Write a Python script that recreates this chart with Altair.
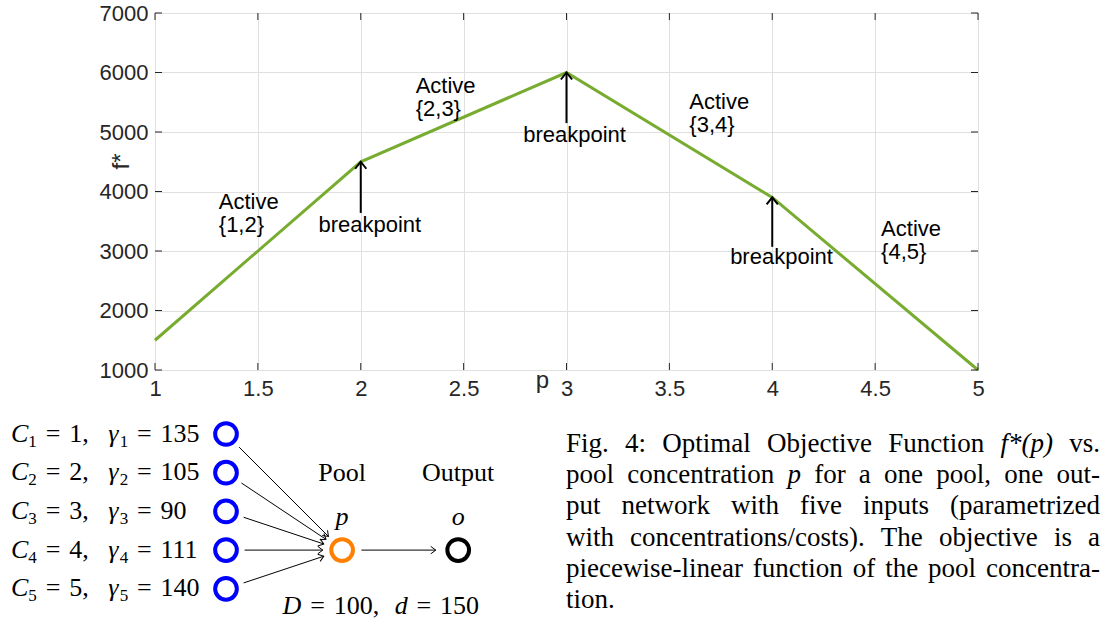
import math
import altair as alt
import pandas as pd

# ------------------------------------------------------------------
# Optimal objective f*(p) over the pool concentration
# ------------------------------------------------------------------
p_vals = [1, 2, 3, 4, 5]
f_vals = [1500, 4500, 6000, 3900, 1000]

x_ticks = [1, 1.5, 2, 2.5, 3, 3.5, 4, 4.5, 5]
y_ticks = [1000, 2000, 3000, 4000, 5000, 6000, 7000]

active_text = ["Active\n{1,2}", "Active\n{2,3}", "Active\n{3,4}", "Active\n{4,5}"]
active_p = [1.31, 2.267, 3.597, 4.529]
active_f = [3700, 5650, 5380, 3250]

bp_p = [2, 3, 4]
bp_tip = [4500, 6000, 3900]
bp_tail = [3640, 5150, 3070]
bp_text_p = [2.044, 3.039, 4.045]
bp_text_f = [3320, 4840, 2780]

# Network: five inputs (concentration, cost) -> one pool -> one output
input_conc = [1, 2, 3, 4, 5]
input_cost = [135, 105, 90, 111, 140]
demand = 100
price = 150

caption_lines = [
    "Fig. 4: Optimal Objective Function f*(p) vs.",
    "pool concentration p for a one pool, one out-",
    "put network with five inputs (parametrized",
    "with concentrations/costs). The objective is a",
    "piecewise-linear function of the pool concentra-",
    "tion.",
]
ITALIC_WORDS = {"f*(p)", "p"}

# ------------------------------------------------------------------
# Layout / style
# ------------------------------------------------------------------
W, H = 823, 357
PAD = {"left": 155, "top": 13, "right": 134, "bottom": 254}
GREEN = "#77AC30"
AXIS_GRAY = "#262626"
GRID_GRAY = "#e0e0e0"
TICK = 7
SANS = "Liberation Sans"
SERIF = "Liberation Serif"
FS_TICK = 22
FS_NOTE = 22

# Times-compatible advance widths (1/1000 em) for Liberation Serif
SERIF_RM = {
    " ": 250, "(": 333, ")": 333, "*": 500, ",": 250, "-": 333, ".": 250, "/": 278,
    ":": 278, "=": 564, "{": 480, "}": 480,
    "A": 722, "B": 667, "C": 667, "D": 722, "E": 611, "F": 556, "O": 722, "P": 556, "T": 611,
    "a": 444, "b": 500, "c": 444, "d": 500, "e": 444, "f": 333, "g": 500, "h": 500,
    "i": 278, "j": 278, "k": 500, "l": 278, "m": 778, "n": 500, "o": 500, "p": 500,
    "q": 500, "r": 333, "s": 389, "t": 278, "u": 500, "v": 500, "w": 722, "x": 500,
    "y": 500, "z": 444,
}
for d in "0123456789":
    SERIF_RM[d] = 500
SERIF_IT = {"C": 667, "D": 722, "d": 500, "p": 500, "o": 500, "f": 278, "*": 500,
            "(": 333, ")": 333, "γ": 440}


def text_width(s, italic, size):
    table = SERIF_IT if italic else SERIF_RM
    return sum(table.get(ch, SERIF_RM.get(ch, 500)) for ch in s) * size / 1000


# ------------------------------------------------------------------
# Main plot
# ------------------------------------------------------------------
x_scale = alt.Scale(domain=[1, 5], nice=False, zero=False)
y_scale = alt.Scale(domain=[1000, 7000], nice=False, zero=False)

x_axis = alt.Axis(
    values=x_ticks, format="~g", grid=True, gridColor=GRID_GRAY, ticks=False, domain=False,
    labelFlush=False, labelPadding=8, labelFontSize=FS_TICK, labelFont=SANS,
    labelColor=AXIS_GRAY,
    titleFont=SANS, titleFontSize=24, titleFontWeight="normal", titleColor=AXIS_GRAY,
    titleX=387, titleY=17, titleBaseline="alphabetic", titleAlign="center",
)
y_axis = alt.Axis(
    values=y_ticks, format="d", grid=True, gridColor=GRID_GRAY, ticks=False, domain=False,
    labelFlush=False, labelPadding=7, labelFontSize=FS_TICK, labelFont=SANS,
    labelColor=AXIS_GRAY,
    titleFont=SANS, titleFontSize=24, titleFontWeight="normal", titleColor=AXIS_GRAY,
    titleX=-27, titleY=148, titleAngle=270, titleBaseline="alphabetic", titleAlign="center",
)


def X(field, axis=True):
    if axis:
        return alt.X(field, type="quantitative", scale=x_scale, axis=x_axis, title="p")
    return alt.X(field, type="quantitative", scale=x_scale, title="p")


def Y(field, axis=True):
    if axis:
        return alt.Y(field, type="quantitative", scale=y_scale, axis=y_axis, title="f*")
    return alt.Y(field, type="quantitative", scale=y_scale, title="f*")


curve_df = pd.DataFrame({"p": p_vals, "f": f_vals})
curve = alt.Chart(curve_df).mark_line(color=GREEN, strokeWidth=3).encode(
    x=X("p"), y=Y("f")
)

xt_df = pd.DataFrame({"p": x_ticks})
yt_df = pd.DataFrame({"f": y_ticks})
tick_style = dict(color=AXIS_GRAY, strokeWidth=1)
ticks_bottom = alt.Chart(xt_df).mark_rule(**tick_style).encode(
    x=X("p", False), y=alt.value(H), y2=alt.value(H - TICK))
ticks_top = alt.Chart(xt_df).mark_rule(**tick_style).encode(
    x=X("p", False), y=alt.value(0), y2=alt.value(TICK))
ticks_left = alt.Chart(yt_df).mark_rule(**tick_style).encode(
    y=Y("f", False), x=alt.value(0), x2=alt.value(TICK))
ticks_right = alt.Chart(yt_df).mark_rule(**tick_style).encode(
    y=Y("f", False), x=alt.value(W), x2=alt.value(W - TICK))

active_df = pd.DataFrame({"p": active_p, "f": active_f, "label": active_text})
active = alt.Chart(active_df).mark_text(
    align="left", baseline="alphabetic", font=SANS, fontSize=FS_NOTE, lineBreak="\n",
    lineHeight=23, color="black",
).encode(x=X("p", False), y=Y("f", False), text="label:N")

bp_df = pd.DataFrame({"p": bp_p, "tip": bp_tip, "tail": bp_tail})
bp_shaft = alt.Chart(bp_df).mark_rule(color="black", strokeWidth=2).encode(
    x=X("p", False), y=Y("tail", False), y2="tip:Q")
bp_head = alt.Chart(bp_df).mark_point(
    shape="M -0.8 1 L 0 0 L 0.8 1", filled=False, size=196, strokeWidth=2,
    color="black", opacity=1,
).encode(x=X("p", False), y=Y("tip", False))

bp_lab_df = pd.DataFrame({"p": bp_text_p, "f": bp_text_f, "label": ["breakpoint"] * 3})
bp_label = alt.Chart(bp_lab_df).mark_text(
    align="center", baseline="alphabetic", font=SANS, fontSize=FS_NOTE, color="black"
).encode(x=X("p", False), y=Y("f", False), text="label:N")

main = alt.layer(curve, ticks_bottom, ticks_top, ticks_left, ticks_right,
                 active, bp_shaft, bp_head, bp_label)

# ------------------------------------------------------------------
# Network diagram (grid units: one unit = ROW pixels in both directions)
# ------------------------------------------------------------------
ROW = 38.7
FS_DIAG = 26
FS_SUB = 17
G = 0.34  # space around "=" in em

COL_IN, COL_POOL, COL_OUT = 0, 3, 6
POOL_ROW = 3

d_x = alt.Scale(domain=[0, 6], range=[71, 71 + 6 * ROW])
d_y = alt.Scale(domain=[0, 4], range=[421, 421 + 4 * ROW])

nodes = []
for i in range(len(input_conc)):
    nodes.append({"col": COL_IN, "row": i, "kind": "input"})
nodes.append({"col": COL_POOL, "row": POOL_ROW, "kind": "pool"})
nodes.append({"col": COL_OUT, "row": POOL_ROW, "kind": "output"})
nodes_df = pd.DataFrame(nodes)

node_marks = alt.Chart(nodes_df).mark_point(
    shape="circle", filled=False, size=471, strokeWidth=4, opacity=1
).encode(
    x=alt.X("col:Q", scale=d_x, axis=None),
    y=alt.Y("row:Q", scale=d_y, axis=None),
    color=alt.Color("kind:N", legend=None,
                    scale=alt.Scale(domain=["input", "pool", "output"],
                                    range=["#0000FF", "#FF8000", "#000000"])),
)

edge_defs = [(COL_IN, i, COL_POOL, POOL_ROW, 0.48, 0.5) for i in range(len(input_conc))]
edge_defs.append((COL_POOL, POOL_ROW, COL_OUT, POOL_ROW, 0.5, 0.58))
edges = []
for x0, y0, x1, y1, s0, s1 in edge_defs:
    L = math.hypot(x1 - x0, y1 - y0)
    ux, uy = (x1 - x0) / L, (y1 - y0) / L
    edges.append({
        "x": x0 + ux * s0, "y": y0 + uy * s0,
        "x2": x1 - ux * s1, "y2": y1 - uy * s1,
        "angle": math.degrees(math.atan2(uy, ux)) % 360,
    })
edges_df = pd.DataFrame(edges)

edge_lines = alt.Chart(edges_df).mark_rule(color="black", strokeWidth=1).encode(
    x=alt.X("x:Q", scale=d_x, axis=None), y=alt.Y("y:Q", scale=d_y, axis=None),
    x2="x2:Q", y2="y2:Q")
edge_heads = alt.Chart(edges_df).mark_point(
    shape="M -1 -0.75 L 0 0 L -1 0.75", filled=False, size=100, strokeWidth=1,
    color="black", opacity=1,
).encode(
    x=alt.X("x2:Q", scale=d_x, axis=None), y=alt.Y("y2:Q", scale=d_y, axis=None),
    angle=alt.Angle("angle:Q", scale=None))

# typeset math-like labels as runs of roman / italic / subscript text
tokens = []


def measure(parts):
    w = 0
    for kind, val in parts:
        if kind == "gap":
            w += val * FS_DIAG
        else:
            w += text_width(val, kind == "it", FS_SUB if kind == "sub" else FS_DIAG)
    return w


def typeset(parts, left_px, base_px):
    x = left_px
    for kind, val in parts:
        if kind == "gap":
            x += val * FS_DIAG
            continue
        size = FS_SUB if kind == "sub" else FS_DIAG
        shift = 5 if kind == "sub" else 0
        tokens.append({"x": x / ROW, "y": (base_px + shift) / ROW, "text": val, "style": kind})
        x += text_width(val, kind == "it", size)


def typeset_center(parts, center_px, base_px):
    typeset(parts, center_px - measure(parts) / 2, base_px)


for i, (c, g) in enumerate(zip(input_conc, input_cost)):
    k = str(i + 1)
    parts = [("it", "C"), ("sub", k), ("gap", G), ("rm", "="), ("gap", G), ("rm", f"{c},"),
             ("gap", 0.75), ("it", "γ"), ("sub", k), ("gap", G), ("rm", "="), ("gap", G),
             ("rm", str(g))]
    typeset(parts, -215, i * ROW + 7.5)

typeset_center([("rm", "Pool")], COL_POOL * ROW, 1 * ROW + 8.4)
typeset_center([("rm", "Output")], COL_OUT * ROW, 1 * ROW + 8.4)
typeset_center([("it", "p")], COL_POOL * ROW, POOL_ROW * ROW - 25)
typeset_center([("it", "o")], COL_OUT * ROW, POOL_ROW * ROW - 25)
typeset_center([("it", "D"), ("gap", G), ("rm", "="), ("gap", G), ("rm", f"{demand},"),
                ("gap", 0.6), ("it", "d"), ("gap", G), ("rm", "="), ("gap", G),
                ("rm", str(price))], 4 * ROW, 4 * ROW + 25)

tok_df = pd.DataFrame(tokens)


def token_layer(style, **mark_kw):
    return alt.Chart(tok_df).transform_filter(alt.datum.style == style).mark_text(
        align="left", baseline="alphabetic", font=SERIF, color="black", **mark_kw
    ).encode(
        x=alt.X("x:Q", scale=d_x, axis=None), y=alt.Y("y:Q", scale=d_y, axis=None),
        text="text:N")


diagram = alt.layer(
    edge_lines, edge_heads, node_marks,
    token_layer("rm", fontSize=FS_DIAG),
    token_layer("it", fontSize=FS_DIAG, fontStyle="italic"),
    token_layer("sub", fontSize=FS_SUB),
)

# ------------------------------------------------------------------
# Caption, justified across the text block
# ------------------------------------------------------------------
CAP_FS = 27
CAP_LEFT, CAP_W = 566, 534
cap_rows = []
for li, line in enumerate(caption_lines):
    words = line.split(" ")
    widths = [text_width(w, w in ITALIC_WORDS, CAP_FS) for w in words]
    if li < len(caption_lines) - 1 and len(words) > 1:
        gap = (CAP_W - sum(widths)) / (len(words) - 1)
    else:
        gap = 0.333 * CAP_FS
    x = 0.0
    for w, wd in zip(words, widths):
        cap_rows.append({"x": x / CAP_W, "line": li, "text": w,
                         "style": "it" if w in ITALIC_WORDS else "rm"})
        x += wd + gap
cap_df = pd.DataFrame(cap_rows)

c_x = alt.Scale(domain=[0, 1], range=[CAP_LEFT - PAD["left"], CAP_LEFT - PAD["left"] + CAP_W])
c_y = alt.Scale(domain=[0, 5], range=[452 - PAD["top"], 608 - PAD["top"]])


def caption_layer(style, **mark_kw):
    return alt.Chart(cap_df).transform_filter(alt.datum.style == style).mark_text(
        align="left", baseline="alphabetic", font=SERIF, fontSize=CAP_FS, color="black",
        **mark_kw
    ).encode(
        x=alt.X("x:Q", scale=c_x, axis=None), y=alt.Y("line:Q", scale=c_y, axis=None),
        text="text:N")


caption = alt.layer(caption_layer("rm"), caption_layer("it", fontStyle="italic"))

chart = alt.layer(main, diagram, caption).resolve_scale(
    x="independent", y="independent"
).properties(
    width=W, height=H, padding=PAD,
    autosize=alt.AutoSizeParams(type="none"),
    background="white",
).configure_view(stroke=AXIS_GRAY, strokeWidth=1)

chart.save("out.html", embed_options={"renderer": "svg", "actions": False})
